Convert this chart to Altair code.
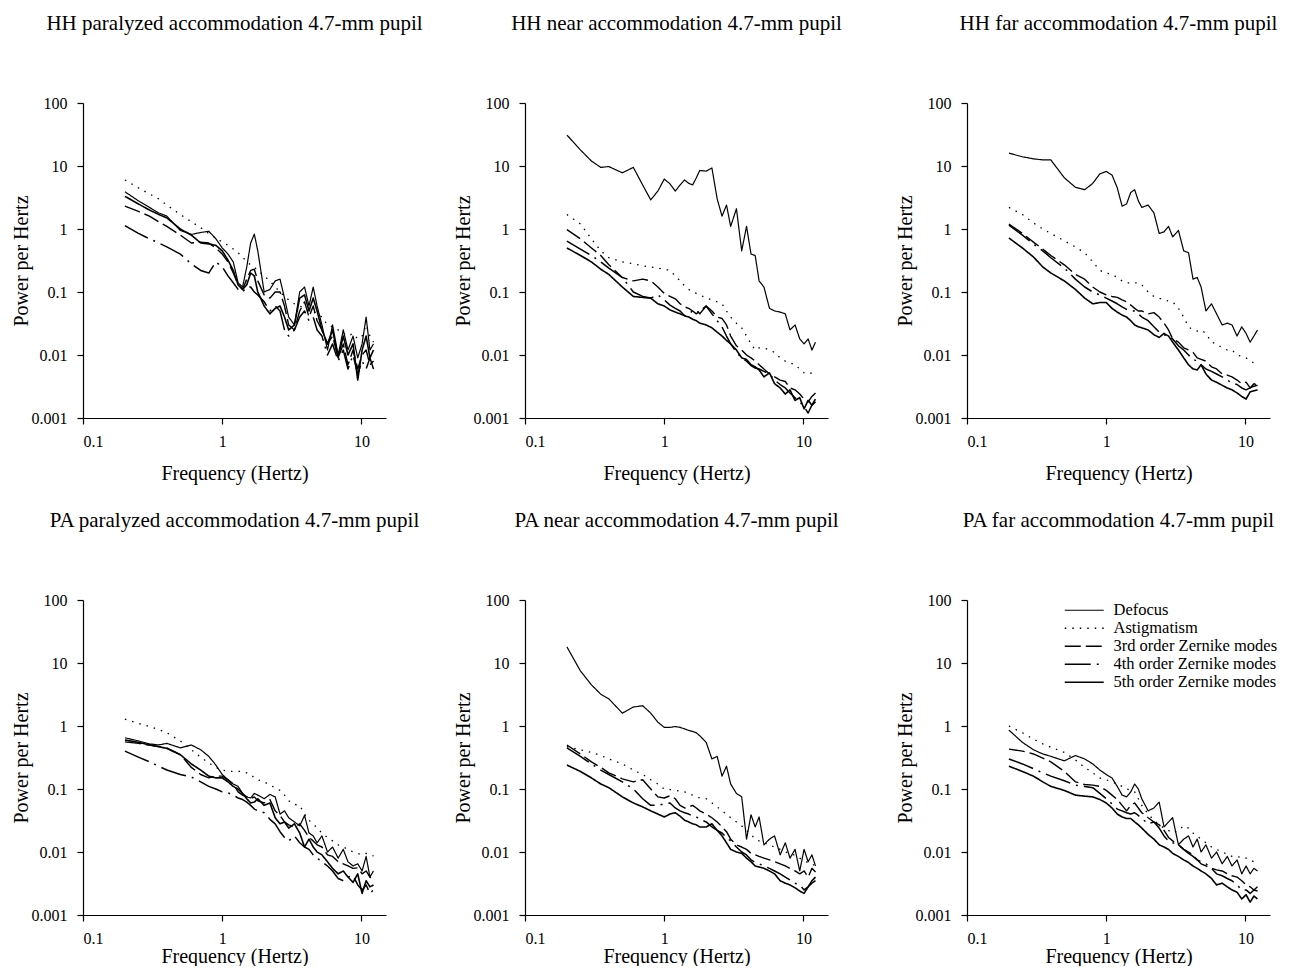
import altair as alt
import pandas as pd

# ---------------- data ----------------
FREQ = [0.2, 0.25, 0.3, 0.35, 0.4, 0.5, 0.6, 0.7, 0.8, 0.9,
        1.0, 1.1, 1.2, 1.3, 1.4, 1.5, 1.6, 1.7, 1.8, 2.0,
        2.2, 2.4, 2.6, 2.8, 3.0, 3.3, 3.6, 3.9, 4.2, 4.5,
        4.8, 5.2, 5.7, 6.2, 6.8, 7.4, 8.0, 8.7, 9.4, 10.1,
        10.8, 11.5, 12.2]

SERIES = ["Defocus", "Astigmatism", "3rd order Zernike modes",
          "4th order Zernike modes", "5th order Zernike modes"]

PANEL_TITLES = ["HH paralyzed accommodation 4.7-mm pupil",
                "HH near accommodation 4.7-mm pupil",
                "HH far accommodation 4.7-mm pupil",
                "PA paralyzed accommodation 4.7-mm pupil",
                "PA near accommodation 4.7-mm pupil",
                "PA far accommodation 4.7-mm pupil"]

# HH paralyzed
hh_par_defocus = [3.9, 2.8, 2.2, 1.8, 1.6, 0.95, 0.82, 0.88, 0.92, 0.7,
                  0.5, 0.4, 0.3, 0.14, 0.12, 0.25, 0.6, 0.83, 0.45, 0.1,
                  0.11, 0.15, 0.16, 0.08, 0.04, 0.03, 0.1, 0.12, 0.06, 0.12,
                  0.06, 0.03, 0.012, 0.03, 0.01, 0.025, 0.012, 0.02, 0.009, 0.015,
                  0.04, 0.012, 0.015]
hh_par_astig = [6.0, 4.5, 3.6, 3.0, 2.4, 1.7, 1.3, 1.05, 0.85, 0.72,
                0.62, 0.55, 0.48, 0.42, 0.36, 0.3, 0.27, 0.25, 0.22, 0.18,
                0.15, 0.12, 0.1, 0.085, 0.075, 0.065, 0.06, 0.055, 0.05, 0.048,
                0.045, 0.04, 0.03, 0.028, 0.025, 0.022, 0.02, 0.022, 0.018, 0.02,
                0.03, 0.02, 0.016]
hh_par_z3 = [2.3, 1.9, 1.6, 1.3, 1.1, 0.8, 0.6, 0.62, 0.6, 0.5,
             0.4, 0.3, 0.2, 0.13, 0.11, 0.16, 0.22, 0.23, 0.15, 0.09,
             0.08, 0.1, 0.1, 0.06, 0.03, 0.025, 0.05, 0.07, 0.04, 0.06,
             0.035, 0.025, 0.015, 0.02, 0.009, 0.015, 0.007, 0.012, 0.006, 0.01,
             0.012, 0.007, 0.008]
hh_par_z4 = [1.13, 0.85, 0.7, 0.6, 0.52, 0.4, 0.28, 0.22, 0.2, 0.3,
             0.25, 0.18, 0.14, 0.11, 0.1, 0.12, 0.12, 0.1, 0.09, 0.07,
             0.05, 0.06, 0.05, 0.025, 0.02, 0.025, 0.04, 0.05, 0.035, 0.04,
             0.025, 0.02, 0.01, 0.015, 0.008, 0.012, 0.006, 0.01, 0.005, 0.008,
             0.006, 0.009, 0.006]
hh_par_z5 = [3.3, 2.5, 2.0, 1.7, 1.5, 1.0, 0.8, 0.6, 0.58, 0.55,
             0.45, 0.32, 0.22, 0.13, 0.11, 0.13, 0.2, 0.18, 0.1, 0.06,
             0.045, 0.055, 0.06, 0.04, 0.025, 0.03, 0.08, 0.09, 0.05, 0.08,
             0.05, 0.025, 0.015, 0.025, 0.009, 0.02, 0.01, 0.015, 0.004, 0.012,
             0.02, 0.009, 0.012]

# HH near
hh_near_defocus = [31, 18, 12, 9.5, 9.8, 7.8, 9.5, 5.0, 2.9, 4.0,
                   6.2, 5.2, 4.0, 5.0, 6.0, 5.3, 5.0, 6.5, 8.5, 8.3,
                   9.3, 3.0, 1.6, 2.4, 1.1, 2.1, 0.45, 1.1, 0.4, 0.38,
                   0.15, 0.12, 0.055, 0.05, 0.048, 0.045, 0.025, 0.03, 0.018, 0.015,
                   0.018, 0.012, 0.016]
hh_near_astig = [1.7, 1.2, 0.7, 0.45, 0.35, 0.3, 0.28, 0.26, 0.25, 0.24,
                 0.23, 0.22, 0.18, 0.15, 0.125, 0.11, 0.1, 0.095, 0.09, 0.08,
                 0.075, 0.07, 0.065, 0.05, 0.04, 0.032, 0.027, 0.02, 0.015, 0.012,
                 0.013, 0.013, 0.012, 0.011, 0.009, 0.008, 0.0075, 0.007, 0.006, 0.0052,
                 0.005, 0.0052, 0.0055]
hh_near_z3 = [0.98, 0.7, 0.5, 0.38, 0.27, 0.17, 0.15, 0.16, 0.15, 0.12,
              0.095, 0.085, 0.078, 0.065, 0.058, 0.055, 0.05, 0.045, 0.05, 0.06,
              0.05, 0.04, 0.038, 0.03, 0.02, 0.014, 0.012, 0.01, 0.009, 0.008,
              0.007, 0.006, 0.005, 0.0045, 0.004, 0.0038, 0.003, 0.0028, 0.0024, 0.002,
              0.0018, 0.0022, 0.0025]
hh_near_z4 = [0.64, 0.48, 0.38, 0.3, 0.24, 0.17, 0.1, 0.085, 0.08, 0.09,
              0.075, 0.062, 0.055, 0.05, 0.042, 0.045, 0.05, 0.052, 0.045, 0.06,
              0.045, 0.035, 0.028, 0.02, 0.015, 0.011, 0.009, 0.008, 0.0068, 0.0062,
              0.006, 0.0055, 0.005, 0.004, 0.0034, 0.003, 0.0025, 0.0021, 0.0018, 0.0015,
              0.0012, 0.0016, 0.0018]
hh_near_z5 = [0.5, 0.38, 0.3, 0.23, 0.19, 0.12, 0.085, 0.082, 0.08, 0.065,
              0.06, 0.052, 0.048, 0.045, 0.042, 0.04, 0.037, 0.035, 0.032, 0.03,
              0.027, 0.023, 0.02, 0.017, 0.015, 0.012, 0.009, 0.0085, 0.007, 0.0065,
              0.0058, 0.0045, 0.0052, 0.0035, 0.003, 0.0024, 0.0028, 0.0019, 0.0021, 0.0014,
              0.0019, 0.0016, 0.002]

# HH far
hh_far_defocus = [16, 14, 13, 12.5, 12.5, 6.5, 4.6, 4.2, 5.3, 7.5,
                  8.2, 7.2, 4.5, 2.3, 2.5, 3.8, 4.2, 2.8, 2.2, 2.4,
                  1.8, 0.85, 0.9, 1.1, 0.75, 0.95, 0.45, 0.42, 0.16, 0.17,
                  0.12, 0.05, 0.065, 0.045, 0.03, 0.032, 0.03, 0.02, 0.028, 0.022,
                  0.016, 0.02, 0.025]
hh_far_astig = [2.2, 1.7, 1.25, 1.0, 0.85, 0.65, 0.52, 0.42, 0.3, 0.22,
                0.2, 0.19, 0.17, 0.15, 0.14, 0.14, 0.14, 0.14, 0.13, 0.1,
                0.085, 0.08, 0.075, 0.072, 0.07, 0.055, 0.04, 0.028, 0.025, 0.024,
                0.025, 0.022, 0.016, 0.015, 0.013, 0.012, 0.012, 0.01, 0.0095, 0.009,
                0.008, 0.0075, 0.007]
hh_far_z3 = [1.2, 0.85, 0.62, 0.48, 0.38, 0.27, 0.19, 0.16, 0.12, 0.1,
             0.09, 0.085, 0.082, 0.075, 0.07, 0.062, 0.055, 0.05, 0.05, 0.045,
             0.047, 0.04, 0.032, 0.025, 0.018, 0.016, 0.013, 0.012, 0.011, 0.009,
             0.0085, 0.008, 0.0065, 0.006, 0.005, 0.0048, 0.0045, 0.004, 0.0035, 0.0037,
             0.003, 0.0035, 0.0033]
hh_far_z4 = [1.15, 0.8, 0.58, 0.45, 0.35, 0.24, 0.16, 0.12, 0.1, 0.09,
             0.08, 0.072, 0.065, 0.058, 0.053, 0.05, 0.05, 0.045, 0.04, 0.035,
             0.028, 0.023, 0.021, 0.02, 0.018, 0.014, 0.012, 0.01, 0.0085, 0.008,
             0.007, 0.006, 0.0055, 0.005, 0.0045, 0.004, 0.0036, 0.0034, 0.003, 0.0028,
             0.003, 0.0032, 0.0033]
hh_far_z5 = [0.72, 0.5, 0.36, 0.25, 0.2, 0.15, 0.11, 0.08, 0.065, 0.068,
             0.068, 0.055, 0.048, 0.043, 0.04, 0.035, 0.03, 0.028, 0.027, 0.025,
             0.021, 0.019, 0.022, 0.02, 0.016, 0.012, 0.009, 0.007, 0.006, 0.0058,
             0.007, 0.005, 0.004, 0.0037, 0.0033, 0.003, 0.0028, 0.0025, 0.0022, 0.002,
             0.0026, 0.0027, 0.0028]

# PA paralyzed
pa_par_defocus = [0.65, 0.58, 0.52, 0.5, 0.53, 0.45, 0.5, 0.42, 0.33, 0.24,
                  0.17, 0.14, 0.12, 0.11, 0.085, 0.075, 0.072, 0.085, 0.08, 0.07,
                  0.082, 0.075, 0.04, 0.045, 0.035, 0.03, 0.026, 0.038, 0.02, 0.018,
                  0.014, 0.018, 0.01, 0.012, 0.008, 0.011, 0.007, 0.006, 0.0065, 0.005,
                  0.0085, 0.004, 0.005]
pa_par_astig = [1.28, 1.1, 0.98, 0.88, 0.78, 0.58, 0.42, 0.32, 0.26, 0.22,
                0.2, 0.19, 0.19, 0.19, 0.19, 0.18, 0.17, 0.15, 0.14, 0.13,
                0.115, 0.105, 0.095, 0.08, 0.065, 0.057, 0.055, 0.04, 0.032, 0.028,
                0.024, 0.02, 0.017, 0.015, 0.013, 0.012, 0.011, 0.01, 0.0095, 0.009,
                0.0095, 0.009, 0.0087]
pa_par_z3 = [0.56, 0.53, 0.5, 0.47, 0.45, 0.35, 0.22, 0.17, 0.15, 0.16,
             0.16, 0.14, 0.12, 0.09, 0.08, 0.075, 0.07, 0.075, 0.065, 0.06,
             0.068, 0.045, 0.038, 0.03, 0.027, 0.025, 0.028, 0.022, 0.017, 0.015,
             0.013, 0.012, 0.009, 0.0085, 0.007, 0.0065, 0.006, 0.0055, 0.0056, 0.0045,
             0.005, 0.004, 0.0035]
pa_par_z4 = [0.4, 0.32, 0.27, 0.23, 0.2, 0.17, 0.155, 0.13, 0.11, 0.1,
             0.09, 0.087, 0.08, 0.072, 0.068, 0.062, 0.055, 0.048, 0.045, 0.042,
             0.033, 0.028, 0.021, 0.017, 0.015, 0.018, 0.014, 0.012, 0.011, 0.009,
             0.008, 0.007, 0.006, 0.005, 0.0038, 0.0035, 0.004, 0.0042, 0.003, 0.0025,
             0.003, 0.0022, 0.0025]
pa_par_z5 = [0.6, 0.55, 0.5, 0.47, 0.44, 0.35, 0.25, 0.2, 0.16, 0.15,
             0.15, 0.13, 0.11, 0.1, 0.085, 0.07, 0.06, 0.062, 0.07, 0.055,
             0.06, 0.035, 0.028, 0.03, 0.024, 0.028, 0.02, 0.012, 0.016, 0.012,
             0.01, 0.009, 0.007, 0.0055, 0.0045, 0.005, 0.004, 0.0033, 0.0045, 0.0022,
             0.0035, 0.0028, 0.003]

# PA near
pa_near_defocus = [18, 7.5, 4.5, 3.2, 2.7, 1.6, 2.0, 2.1, 1.6, 1.15,
                   0.95, 0.95, 0.98, 0.95, 0.9, 0.85, 0.82, 0.78, 0.7, 0.55,
                   0.3, 0.33, 0.16, 0.23, 0.12, 0.085, 0.075, 0.016, 0.039, 0.025,
                   0.036, 0.013, 0.016, 0.018, 0.009, 0.014, 0.008, 0.011, 0.005, 0.011,
                   0.007, 0.009, 0.006]
pa_near_astig = [0.47, 0.42, 0.38, 0.34, 0.3, 0.25, 0.2, 0.17, 0.14, 0.12,
                 0.1, 0.098, 0.095, 0.092, 0.09, 0.085, 0.08, 0.075, 0.072, 0.07,
                 0.06, 0.052, 0.045, 0.04, 0.035, 0.03, 0.026, 0.022, 0.019, 0.016,
                 0.015, 0.014, 0.013, 0.012, 0.011, 0.01, 0.0095, 0.0088, 0.008, 0.0072,
                 0.0068, 0.0065, 0.006]
pa_near_z3 = [0.5, 0.36, 0.27, 0.22, 0.18, 0.145, 0.13, 0.14, 0.1, 0.075,
              0.072, 0.078, 0.07, 0.055, 0.05, 0.052, 0.055, 0.05, 0.045, 0.04,
              0.035, 0.03, 0.025, 0.021, 0.016, 0.013, 0.012, 0.011, 0.0095, 0.009,
              0.0085, 0.008, 0.0075, 0.007, 0.0065, 0.006, 0.0055, 0.005, 0.0045, 0.005,
              0.004, 0.0055, 0.0048]
pa_near_z4 = [0.45, 0.33, 0.25, 0.2, 0.17, 0.13, 0.1, 0.07, 0.055, 0.055,
              0.058, 0.06, 0.05, 0.045, 0.042, 0.04, 0.037, 0.036, 0.033, 0.03,
              0.025, 0.022, 0.02, 0.017, 0.015, 0.012, 0.01, 0.009, 0.0075, 0.0068,
              0.0065, 0.006, 0.0055, 0.005, 0.0045, 0.004, 0.0036, 0.0032, 0.003, 0.0025,
              0.0028, 0.0032, 0.0035]
pa_near_z5 = [0.24, 0.19, 0.15, 0.12, 0.105, 0.075, 0.06, 0.052, 0.045, 0.04,
              0.036, 0.04, 0.042, 0.037, 0.032, 0.03, 0.028, 0.027, 0.025, 0.025,
              0.028, 0.022, 0.018, 0.014, 0.011, 0.01, 0.0095, 0.008, 0.007, 0.006,
              0.0058, 0.0055, 0.005, 0.0045, 0.0035, 0.0032, 0.003, 0.0027, 0.0024, 0.0022,
              0.0028, 0.0035, 0.004]

# PA far
pa_far_defocus = [0.86, 0.55, 0.42, 0.36, 0.33, 0.28, 0.34, 0.3, 0.25, 0.2,
                  0.17, 0.15, 0.11, 0.08, 0.075, 0.09, 0.12, 0.1, 0.07, 0.045,
                  0.05, 0.062, 0.025, 0.03, 0.035, 0.013, 0.016, 0.018, 0.012, 0.016,
                  0.01, 0.013, 0.008, 0.01, 0.0065, 0.0085, 0.006, 0.0075, 0.0045, 0.006,
                  0.0045, 0.0055, 0.005]
pa_far_astig = [1.0, 0.78, 0.62, 0.52, 0.46, 0.38, 0.29, 0.22, 0.18, 0.15,
                0.14, 0.13, 0.12, 0.11, 0.1, 0.095, 0.09, 0.07, 0.055, 0.04,
                0.032, 0.027, 0.024, 0.022, 0.02, 0.022, 0.026, 0.024, 0.02, 0.018,
                0.016, 0.014, 0.012, 0.011, 0.01, 0.0092, 0.0085, 0.0082, 0.0085, 0.008,
                0.0075, 0.007, 0.0065]
pa_far_z3 = [0.43, 0.4, 0.36, 0.31, 0.27, 0.19, 0.13, 0.118, 0.115, 0.11,
             0.095, 0.08, 0.068, 0.055, 0.045, 0.055, 0.06, 0.05, 0.042, 0.035,
             0.03, 0.027, 0.022, 0.017, 0.015, 0.013, 0.011, 0.01, 0.009, 0.0075,
             0.0065, 0.006, 0.0055, 0.0052, 0.005, 0.0045, 0.0042, 0.004, 0.0035, 0.003,
             0.0028, 0.0025, 0.0028]
pa_far_z4 = [0.3, 0.25, 0.21, 0.18, 0.16, 0.135, 0.115, 0.11, 0.105, 0.085,
             0.07, 0.058, 0.048, 0.045, 0.042, 0.04, 0.042, 0.038, 0.034, 0.028,
             0.03, 0.024, 0.018, 0.015, 0.014, 0.013, 0.011, 0.0095, 0.0085, 0.0075,
             0.007, 0.0065, 0.0055, 0.0045, 0.0042, 0.0038, 0.0035, 0.003, 0.0025, 0.0025,
             0.0022, 0.0025, 0.0024]
pa_far_z5 = [0.23, 0.19, 0.16, 0.13, 0.11, 0.095, 0.08, 0.077, 0.075, 0.068,
             0.06, 0.05, 0.04, 0.036, 0.034, 0.034, 0.03, 0.027, 0.024, 0.019,
             0.016, 0.013, 0.012, 0.011, 0.0095, 0.0085, 0.0075, 0.0068, 0.006, 0.0055,
             0.005, 0.0045, 0.0038, 0.003, 0.0032, 0.0028, 0.0025, 0.0023, 0.0018, 0.0021,
             0.0016, 0.002, 0.0018]

PANELS = [
    [hh_par_defocus, hh_par_astig, hh_par_z3, hh_par_z4, hh_par_z5],
    [hh_near_defocus, hh_near_astig, hh_near_z3, hh_near_z4, hh_near_z5],
    [hh_far_defocus, hh_far_astig, hh_far_z3, hh_far_z4, hh_far_z5],
    [pa_par_defocus, pa_par_astig, pa_par_z3, pa_par_z4, pa_par_z5],
    [pa_near_defocus, pa_near_astig, pa_near_z3, pa_near_z4, pa_near_z5],
    [pa_far_defocus, pa_far_astig, pa_far_z3, pa_far_z4, pa_far_z5],
]

X_TICKS = [0.1, 1, 10]
Y_TICKS = [0.001, 0.01, 0.1, 1, 10, 100]

FONT = "Liberation Serif"
DASHES = [[1, 0], [1.5, 6], [16, 5], [26, 6, 2, 6], [1, 0]]
WIDTHS = [1.2, 1.6, 1.4, 1.3, 1.8]


def make_df(series_lists):
    rows = []
    for name, vals in zip(SERIES, series_lists):
        for f, p in zip(FREQ, vals):
            rows.append({"freq": f, "power": p, "series": name})
    return pd.DataFrame(rows)


def panel(i):
    df = make_df(PANELS[i])
    x_title_pad = 14 if i < 3 else 0
    if i == 5:
        leg = alt.Legend(title=None, orient="none", legendX=96, legendY=2,
                         symbolType="M-1,0H5", symbolSize=169,
                         symbolStrokeColor="black", symbolFillColor="transparent",
                         labelFont=FONT, labelFontSize=16.5, labelColor="black",
                         labelLimit=300, rowPadding=1, padding=0,
                         labelOffset=34)
    else:
        leg = None
    return alt.Chart(df).mark_line(color="black", strokeCap="butt", strokeJoin="round").encode(
        x=alt.X("freq:Q",
                scale=alt.Scale(type="log", domain=[0.1, 15], nice=False),
                axis=alt.Axis(values=X_TICKS, format="~g", title="Frequency (Hertz)",
                              titlePadding=x_title_pad, labelPadding=9)),
        y=alt.Y("power:Q",
                scale=alt.Scale(type="log", domain=[0.001, 100], nice=False),
                axis=alt.Axis(values=Y_TICKS, format="~g", title="Power per Hertz",
                              titlePadding=0, labelPadding=10)),
        strokeDash=alt.StrokeDash("series:N",
                                  scale=alt.Scale(domain=SERIES, range=DASHES),
                                  legend=leg),
        strokeWidth=alt.StrokeWidth("series:N",
                                    scale=alt.Scale(domain=SERIES, range=WIDTHS),
                                    legend=leg),
    ).properties(
        width=303, height=315,
        title=alt.Title(PANEL_TITLES[i], font=FONT, fontSize=21, fontWeight="normal",
                        color="black", anchor="middle", frame="group",
                        baseline="alphabetic", offset=44)
    )


chart = alt.concat(
    *[panel(i) for i in range(6)],
    columns=3, spacing={"row": 182, "column": 139}, bounds="flush"
).resolve_scale(
    strokeDash="independent", strokeWidth="independent"
).resolve_legend(
    strokeDash="independent", strokeWidth="independent"
).properties(
    background="white", padding={"top": 5, "left": 3, "right": 0, "bottom": 0}
).configure_axis(
    labelFont=FONT, labelFontSize=16, labelColor="black",
    titleFont=FONT, titleFontSize=20, titleFontWeight="normal", titleColor="black",
    domainColor="black", domainWidth=1.2, tickColor="black", tickSize=6, tickWidth=1.2,
    grid=False
).configure_view(stroke=None)

chart.save("out.html", embed_options={"renderer": "svg", "actions": False})
